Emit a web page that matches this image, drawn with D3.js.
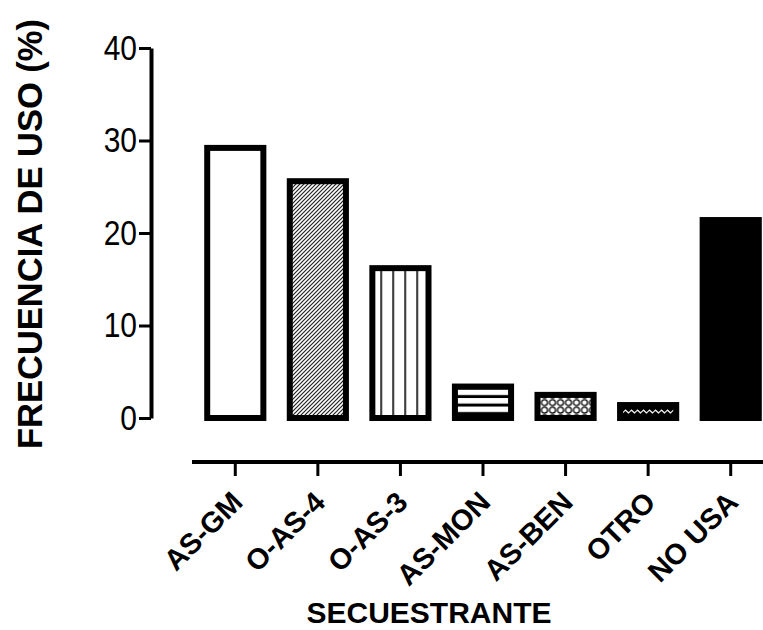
<!DOCTYPE html>
<html>
<head>
<meta charset="utf-8">
<script src="https://cdn.jsdelivr.net/npm/d3@7"></script>
<style>
  html, body { margin: 0; padding: 0; background: #fff; }
  svg text { font-family: "Liberation Sans", Arial, sans-serif; fill: #000; }
</style>
</head>
<body>
<svg id="chart" width="763" height="630"></svg>
<script>
// Usage frequency (%) of each sequestrant
const categories = ["AS-GM", "O-AS-4", "O-AS-3", "AS-MON", "AS-BEN", "OTRO", "NO USA"];
const values = [29.2, 25.6, 16.2, 3.4, 2.5, 1.4, 21.4];
const fills = ["white", "url(#diag)", "url(#vert)", "url(#horiz)", "url(#rings)", "url(#wave)", "black"];
const yTicks = [0, 10, 20, 30, 40];

const svg = d3.select("#chart");
const defs = svg.append("defs");

// scales
const x = d3.scaleBand().domain(categories).range([194, 772]).paddingInner(0.32).paddingOuter(0.16);
const y = d3.scaleLinear().domain([0, 40]).range([418, 48]);
const strokeW = 6;
const innerTop = i => y(values[i]) + strokeW / 2;   // top of the filled area inside a bar

// fill patterns
const diag = defs.append("pattern").attr("id", "diag").attr("patternUnits", "userSpaceOnUse")
  .attr("width", 4).attr("height", 4);
diag.append("rect").attr("width", 4).attr("height", 4).attr("fill", "white");
diag.append("path").attr("d", "M-1,1 L1,-1 M0,4 L4,0 M3,5 L5,3").attr("stroke", "#222").attr("stroke-width", 1.2);

const vert = defs.append("pattern").attr("id", "vert").attr("patternUnits", "userSpaceOnUse")
  .attr("width", 12).attr("height", 10).attr("x", x(categories[2]) + strokeW / 2);
vert.append("rect").attr("width", 12).attr("height", 10).attr("fill", "white");
vert.append("rect").attr("x", 5).attr("width", 1.6).attr("height", 10).attr("fill", "black");

const horiz = defs.append("pattern").attr("id", "horiz").attr("patternUnits", "userSpaceOnUse")
  .attr("width", 10).attr("height", 8.5).attr("y", innerTop(3));
horiz.append("rect").attr("width", 10).attr("height", 8.5).attr("fill", "white");
horiz.append("rect").attr("y", 5.5).attr("width", 10).attr("height", 3).attr("fill", "black");

const rings = defs.append("pattern").attr("id", "rings").attr("patternUnits", "userSpaceOnUse")
  .attr("width", 8).attr("height", 7.5).attr("x", x(categories[4]) + strokeW / 2).attr("y", innerTop(4) + 1);
rings.append("rect").attr("width", 8).attr("height", 7.5).attr("fill", "white");
rings.append("ellipse").attr("cx", 4).attr("cy", 3.75).attr("rx", 3).attr("ry", 2.9)
  .attr("fill", "none").attr("stroke", "black").attr("stroke-width", 1.3);

const wave = defs.append("pattern").attr("id", "wave").attr("patternUnits", "userSpaceOnUse")
  .attr("width", 6).attr("height", 8).attr("y", innerTop(5));
wave.append("rect").attr("width", 6).attr("height", 8).attr("fill", "black");
wave.append("path").attr("d", "M0,3.5 L1.5,2 L3,3.5 L4.5,5 L6,3.5").attr("stroke", "white").attr("stroke-width", 1.2).attr("fill", "none");

// bars
svg.append("g").selectAll("rect").data(categories).join("rect")
  .attr("x", d => x(d))
  .attr("y", (d, i) => y(values[i]))
  .attr("width", x.bandwidth())
  .attr("height", (d, i) => y(0) - y(values[i]))
  .attr("fill", (d, i) => fills[i])
  .attr("stroke", "black")
  .attr("stroke-width", strokeW)
  .attr("stroke-linejoin", "miter");

// y axis
const yAxis = svg.append("g").attr("transform", "translate(151,0)")
  .call(d3.axisLeft(y).tickValues(yTicks).tickSize(12).tickSizeOuter(0).tickPadding(2));
yAxis.select(".domain").attr("stroke-width", 4);
yAxis.selectAll(".tick line").attr("stroke-width", 3);
yAxis.selectAll(".tick text")
  .attr("font-size", 30)
  .attr("font-family", "Liberation Sans, Arial, sans-serif")
  .attr("transform", "scale(1,1.18)");

// x axis
const xAxis = svg.append("g").attr("transform", "translate(0,462)")
  .call(d3.axisBottom(x).tickSize(14).tickSizeOuter(0));
xAxis.select(".domain").attr("d", "M192,0H763").attr("stroke-width", 4);
xAxis.selectAll(".tick line").attr("stroke-width", 3);
xAxis.selectAll(".tick text")
  .attr("font-size", 29).attr("font-weight", "bold")
  .attr("font-family", "Liberation Sans, Arial, sans-serif")
  .attr("text-anchor", "end")
  .attr("dy", null)
  .attr("transform", "translate(9,42) rotate(-45)")
  .attr("y", 0);

// axis titles
svg.append("text")
  .attr("transform", "translate(42,234) rotate(-90)")
  .attr("text-anchor", "middle")
  .attr("font-size", 34.5).attr("font-weight", "bold")
  .text("FRECUENCIA DE USO (%)");

svg.append("text")
  .attr("x", 429).attr("y", 623)
  .attr("text-anchor", "middle")
  .attr("font-size", 30).attr("font-weight", "bold")
  .text("SECUESTRANTE");
</script>
</body>
</html>
